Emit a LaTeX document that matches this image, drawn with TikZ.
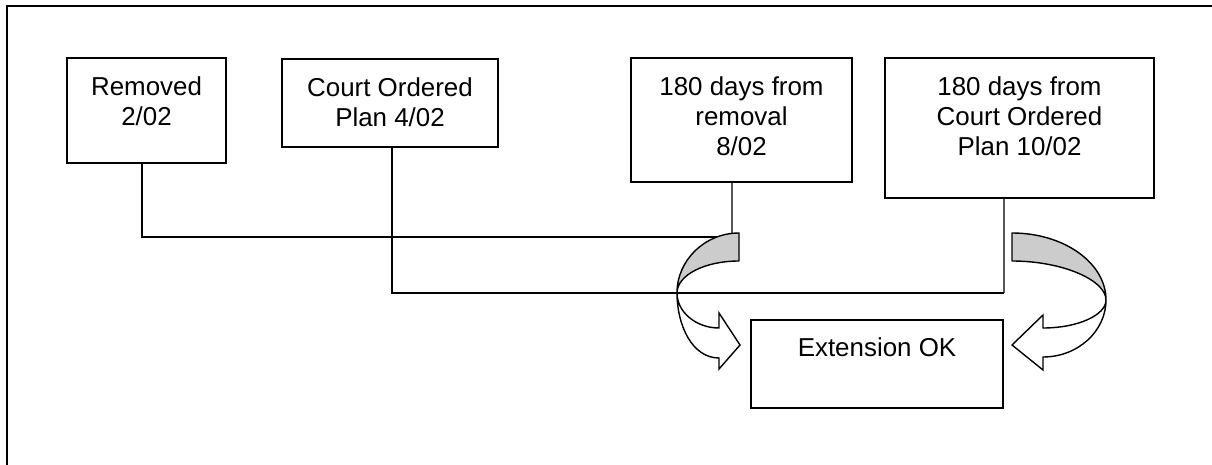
\documentclass[tikz,border=0pt]{standalone}
\usepackage{fontspec}
\setmainfont{Liberation Sans}
\usetikzlibrary{fit}
\begin{document}
\begin{tikzpicture}[x=0.02cm,y=-0.02cm,
  box/.style={draw, line width=0.85pt, inner sep=0pt},
  txt/.style={font=\fontsize{14.75pt}{17.3pt}\selectfont, align=center, inner sep=0pt, anchor=north},
  conn/.style={line width=0.6pt},
  back/.style={draw, line width=0.8pt, fill=black!20, line join=round},
  front/.style={draw, line width=0.8pt, fill=white, line join=miter}]
\useasboundingbox (0,0) rectangle (1212,465);
\draw[line width=1.2pt] (7,465) -- (7,6) -- (1212,6);

% boxes
\node[box, fit={(67,58) (226,163)}] (rem) {};
\node[txt] (remT) at (146.5,76) {Removed\\2/02};
\node[box, fit={(282,59) (498,147)}] (cop) {};
\node[txt] (copT) at (390,77) {Court Ordered\\Plan 4/02};
\node[box, fit={(631,58) (852,182)}] (r180) {};
\node[txt] (r180T) at (741.5,76) {180 days from\\removal\\8/02};
\node[box, fit={(885,58) (1154,198)}] (c180) {};
\node[txt] (c180T) at (1019.5,76) {180 days from\\Court Ordered\\Plan 10/02};
\node[box, fit={(751,320) (1003,408)}] (ext) {};
\node[txt] (extT) at (877,337) {Extension OK};

% connector ends
\coordinate (lg) at (739,237);
\coordinate (lgt) at (732,233);
\coordinate (cj) at (1004,293);

\draw[conn] ([xshift=-0.09cm]rem.south) |- (lg);
\draw[conn] ([xshift=0.04cm]cop.south) |- (cj);
\draw[conn] ([xshift=-0.31cm]c180.south) -- (cj);
\draw[conn] ([xshift=-0.19cm]r180.south) -- (lgt);

% left curved arrow
\draw[back] (739,233) -- (739,261) .. controls (705,261) and (677,275) .. (677,293)
  .. controls (677,260) and (705,233) .. (739,233) -- cycle;
\draw[front] (677,293) .. controls (677,312) and (696,328) .. (719,328)
  -- (719,313) -- (740,345) -- (719,369) -- (719,358)
  .. controls (692,358) and (677,325) .. (677,293) -- cycle;

% right curved arrow
\draw[back] (1012,233) -- (1012,261) .. controls (1062,261) and (1106,280) .. (1106,300)
  .. controls (1106,263) and (1064,233) .. (1012,233) -- cycle;
\draw[front] (1106,300) .. controls (1106,315) and (1078,328) .. (1043,328)
  -- (1043,315) -- (1012,345) -- (1043,370) -- (1043,357)
  .. controls (1078,357) and (1106,331) .. (1106,300) -- cycle;
\end{tikzpicture}
\end{document}
